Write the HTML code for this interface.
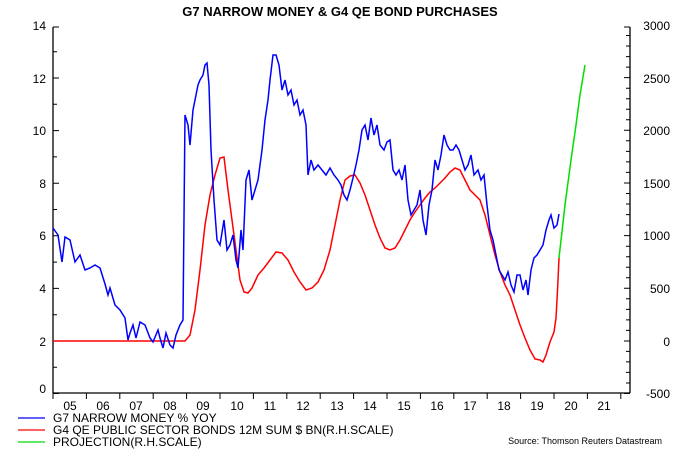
<!DOCTYPE html>
<html><head><meta charset="utf-8"><style>body{margin:0;background:#fff}svg{display:block}text{font-family:"Liberation Sans",sans-serif;fill:#000}</style></head><body>
<svg width="675" height="450" viewBox="0 0 675 450">
<text x="340" y="16" font-size="13" font-weight="bold" text-anchor="middle">G7 NARROW MONEY &amp; G4 QE BOND PURCHASES</text>
<g stroke="#000" stroke-width="1.3" fill="none">
<line x1="53" y1="27" x2="53" y2="393"/><line x1="630" y1="27" x2="630" y2="393"/><line x1="53" y1="393" x2="630" y2="393"/>
</g>
<g stroke="#000" stroke-width="1">
<path d="M53 393.5h6M53 367.2h4M53 341h6M53 314.7h4M53 288.4h6M53 262.1h4M53 235.8h6M53 209.5h4M53 183.2h6M53 156.9h4M53 130.6h6M53 104.3h4M53 78h6M53 51.7h4M53 27h6"/>
<path d="M630 393.5h-6M630 383h-4M630 372.4h-4M630 361.9h-4M630 351.4h-4M630 341h-6M630 330.4h-4M630 319.9h-4M630 309.4h-4M630 298.8h-4M630 288.3h-6M630 277.8h-4M630 267.2h-4M630 256.7h-4M630 246.2h-4M630 235.6h-6M630 225.1h-4M630 214.6h-4M630 204h-4M630 193.5h-4M630 183h-6M630 172.4h-4M630 161.9h-4M630 151.4h-4M630 140.8h-4M630 130.3h-6M630 119.8h-4M630 109.2h-4M630 98.7h-4M630 88.2h-4M630 77.6h-6M630 67.1h-4M630 56.6h-4M630 46h-4M630 35.5h-4M630 27h-6"/>
<path d="M53 393v6M86.4 393v6M119.8 393v6M153.2 393v6M186.6 393v6M220 393v6M253.4 393v6M286.8 393v6M320.2 393v6M353.6 393v6M387 393v6M420.4 393v6M453.8 393v6M487.2 393v6M520.6 393v6M554 393v6M587.4 393v6M620.8 393v6"/>
</g>
<g font-size="12" text-anchor="end">
<text x="46" y="393">0</text><text x="46" y="346">2</text><text x="46" y="293">4</text><text x="46" y="240">6</text><text x="46" y="188">8</text><text x="46" y="135">10</text><text x="46" y="83">12</text><text x="46" y="30">14</text>
</g>
<g font-size="12" text-anchor="end">
<text x="670" y="398">-500</text><text x="670" y="346">0</text><text x="670" y="293">500</text><text x="670" y="240">1000</text><text x="670" y="188">1500</text><text x="670" y="135">2000</text><text x="670" y="83">2500</text><text x="670" y="30">3000</text>
</g>
<g font-size="12" text-anchor="middle">
<text x="70" y="410">05</text><text x="103" y="410">06</text><text x="136" y="410">07</text><text x="170" y="410">08</text><text x="203" y="410">09</text><text x="237" y="410">10</text><text x="270" y="410">11</text><text x="303" y="410">12</text><text x="337" y="410">13</text><text x="370" y="410">14</text><text x="404" y="410">15</text><text x="437" y="410">16</text><text x="470" y="410">17</text><text x="504" y="410">18</text><text x="537" y="410">19</text><text x="571" y="410">20</text><text x="604" y="410">21</text>
</g>
<polyline fill="none" stroke="#f00" stroke-width="1.5" points="53,341 185,341 190,335 195,310 200,270 205,225 210,195 215,175 220,158 224,157 228,190 232,220 236,250 240,280 244,292 248,293 252,288 258,275 264,268 270,260 276,252 282,253 288,260 294,272 300,282 306,290 312,288 318,282 324,270 330,250 336,220 340,200 345,180 350,176 355,175 360,183 365,195 370,210 375,225 380,238 385,248 390,250 395,248 400,240 405,230 410,220 415,212 420,205 425,198 430,192 435,188 440,183 445,178 450,172 455,168 460,170 465,180 470,190 475,195 480,200 485,215 490,235 495,255 500,272 505,285 510,295 515,310 520,325 525,338 530,350 535,359 540,360 543,362 546,355 550,342 554,332 556,318 557,300 558,280 559,258"/>
<polyline fill="none" stroke="#00e000" stroke-width="1.5" points="559,258 565,205 571,160 576,125 580,95 585,65"/>
<polyline fill="none" stroke="#00f" stroke-width="1.5" points="53,228 58,235 62,262 65,237 70,240 75,262 80,255 85,270 90,268 95,265 100,268 105,284 108,295 110,288 115,305 120,310 125,318 128,340 130,333 133,325 136,338 140,322 145,325 150,338 153,342 158,330 160,338 163,348 166,333 170,345 173,348 176,335 180,325 183,320 185,115 188,125 190,145 193,110 196,95 198,85 200,80 203,75 205,65 207,63 209,85 211,150 214,200 217,240 220,245 224,220 227,250 230,245 233,235 236,260 238,268 241,230 243,250 246,180 249,170 252,200 255,190 258,180 262,150 265,120 268,100 270,80 273,55 276,55 279,65 282,90 285,80 288,95 291,90 294,105 297,100 300,115 303,110 306,125 308,175 311,160 314,170 318,165 322,170 326,175 330,168 334,175 338,180 341,185 344,195 347,200 350,190 353,178 356,165 359,150 362,130 365,125 368,140 371,118 374,135 377,125 380,145 384,150 387,142 390,140 393,170 396,175 399,170 402,180 405,165 408,200 411,215 414,210 417,205 420,190 423,220 426,235 429,205 432,190 435,160 438,170 441,155 444,135 447,145 450,150 453,150 456,145 459,150 462,160 465,170 468,165 471,155 474,175 478,170 481,180 484,175 487,205 490,230 493,240 496,255 499,270 502,275 505,280 508,272 511,285 514,292 517,275 520,275 523,290 526,280 528,295 531,270 534,258 537,255 540,250 543,245 546,230 549,220 551,215 554,228 557,225 559,214"/>
<g stroke-width="1.3"><line x1="18" y1="418" x2="45" y2="418" stroke="#00f"/><line x1="18" y1="430" x2="45" y2="430" stroke="#f00"/><line x1="18" y1="442" x2="45" y2="442" stroke="#0d0"/></g>
<g font-size="12"><text x="53" y="422">G7 NARROW MONEY % YOY</text><text x="53" y="434">G4 QE PUBLIC SECTOR BONDS 12M SUM $ BN(R.H.SCALE)</text><text x="53" y="446">PROJECTION(R.H.SCALE)</text></g>
<text x="662" y="444" font-size="9" text-anchor="end">Source: Thomson Reuters Datastream</text>
</svg>
</body></html>
